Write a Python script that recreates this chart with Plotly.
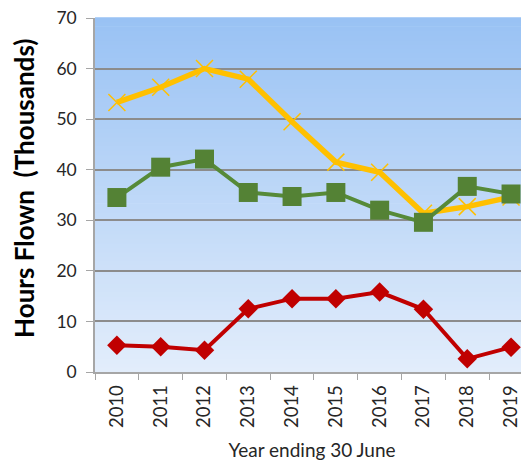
import plotly.graph_objects as go

years = ["2010", "2011", "2012", "2013", "2014", "2015", "2016", "2017", "2018", "2019"]
yellow_vals = [53.3, 56.3, 60.0, 57.9, 49.5, 41.5, 39.5, 31.4, 32.7, 34.6]
green_vals = [34.5, 40.5, 42.1, 35.5, 34.7, 35.5, 32.0, 29.6, 36.7, 35.2]
red_vals = [5.3, 5.0, 4.3, 12.5, 14.5, 14.5, 15.8, 12.4, 2.6, 4.9]
y_ticks = [0, 10, 20, 30, 40, 50, 60, 70]

FONT = "Lato"
TXT = "#262626"

fig = go.Figure()
fig.add_trace(go.Scatter(x=years, y=yellow_vals, mode="lines+markers",
                         line=dict(color="#FFC000", width=5.5),
                         marker=dict(symbol="x-thin", size=17, color="#FFC000",
                                     line=dict(color="#FFC000", width=1.5)),
                         showlegend=False))
fig.add_trace(go.Scatter(x=years, y=green_vals, mode="lines+markers",
                         line=dict(color="#568A38", width=4),
                         marker=dict(symbol="square", size=19, color="#548235"),
                         showlegend=False))
fig.add_trace(go.Scatter(x=years, y=red_vals, mode="lines+markers",
                         line=dict(color="#C00000", width=4),
                         marker=dict(symbol="diamond", size=15, color="#C00000"),
                         showlegend=False))

# vertical gradient background
n = 80
top = (0x99, 0xC2, 0xF4)
bot = (0xE2, 0xED, 0xFB)
shapes = []
for i in range(n):
    t = i / (n - 1)
    c = tuple(round(bot[k] + (top[k] - bot[k]) * t) for k in range(3))
    shapes.append(dict(type="rect", xref="x domain", yref="y domain",
                       x0=0, x1=1, y0=i / n, y1=(i + 1) / n + 0.002,
                       fillcolor="rgb(%d,%d,%d)" % c, line=dict(width=0),
                       layer="below"))

fig.update_layout(
    width=521, height=459,
    margin=dict(l=87, r=0, t=10, b=95),
    paper_bgcolor="white", plot_bgcolor="rgba(0,0,0,0)",
    shapes=shapes,
    font=dict(family=FONT, color=TXT),
    xaxis=dict(type="category", range=[-0.5, 9.41], tickson="boundaries",
               ticks="outside", ticklen=6, ticklabelstandoff=4,
               tickcolor="#A6A6A6", tickangle=-90, tickfont=dict(size=18.5),
               showgrid=False, showline=True, linecolor="#A6A6A6", linewidth=1.5,
               title=dict(text="Year ending 30 June", font=dict(size=19), standoff=17)),
    yaxis=dict(range=[0, 70], tickvals=y_ticks, ticks="outside", ticklen=7,
               tickcolor="#A6A6A6", tickfont=dict(size=17.5), ticklabelstandoff=6,
               ticklabeloverflow="allow",
               showgrid=True, gridcolor="#8C8C8C", gridwidth=1.5,
               showline=True, linecolor="#A6A6A6", linewidth=1.5, zeroline=False),
    annotations=[dict(text="<b>Hours Flown  (Thousands)</b>", textangle=-90,
                      xref="paper", yref="paper", x=-0.1636, y=0.52,
                      xanchor="center", yanchor="middle", showarrow=False,
                      font=dict(size=26, color="black", family=FONT))],
)

fig.write_html("out.html")
